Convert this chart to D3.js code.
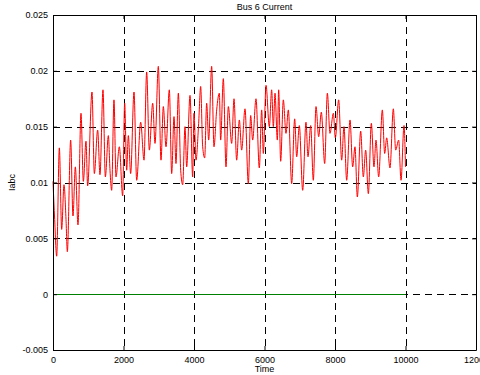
<!DOCTYPE html>
<html>
<head>
<meta charset="utf-8">
<script src="https://cdn.jsdelivr.net/npm/d3@7"></script>
<style>
  body { margin: 0; background: #fff; }
  svg { display: block; font-family: "Liberation Sans", Arial, sans-serif; }
</style>
</head>
<body>
<div id="chart"></div>
<script>
// Axis ticks
const xTicks = [0, 2000, 4000, 6000, 8000, 10000, 12000];
const yTicks = [-0.005, 0, 0.005, 0.01, 0.015, 0.02, 0.025];

// Red trace (Iabc): time and value
const redTime = [0, 47, 104, 180, 246, 312, 369, 407, 501, 567, 634, 709, 794, 861, 936, 983,
  1106, 1173, 1267, 1333, 1418, 1485, 1570, 1617, 1664, 1730, 1787, 1882, 1976, 2033, 2090,
  2137, 2203, 2298, 2374, 2487, 2582, 2657, 2733, 2828, 2894, 2988, 3064, 3130, 3206, 3300,
  3367, 3433, 3489, 3556, 3622, 3679, 3745, 3792, 3887, 3962, 4000, 4057, 4132, 4189, 4246,
  4303, 4359, 4416, 4501, 4567, 4643, 4719, 4756, 4832, 4908, 4974, 5069, 5135, 5210, 5286,
  5352, 5447, 5541, 5608, 5664, 5759, 5853, 5920, 5967, 6043, 6137, 6203, 6251, 6298, 6364,
  6402, 6459, 6534, 6610, 6676, 6771, 6856, 6913, 6988, 7083, 7177, 7234, 7310, 7385, 7461,
  7537, 7612, 7707, 7783, 7858, 7953, 8010, 8104, 8189, 8255, 8331, 8426, 8501, 8567, 8634,
  8728, 8804, 8870, 8946, 9031, 9106, 9163, 9239, 9343, 9409, 9466, 9560, 9655, 9721, 9806,
  9873, 9958, 10000];
const redValue = [0.0101, 0.0067, 0.0034, 0.0131, 0.0058, 0.0098, 0.0067, 0.0038, 0.0138, 0.0070,
  0.0114, 0.0062, 0.0162, 0.0101, 0.0137, 0.0097, 0.0181, 0.0108, 0.0147, 0.0107, 0.0183, 0.0105,
  0.0142, 0.0111, 0.0093, 0.0174, 0.0105, 0.0132, 0.0088, 0.0171, 0.0111, 0.0142, 0.0108, 0.0181,
  0.0102, 0.0154, 0.0120, 0.0199, 0.0129, 0.0171, 0.0135, 0.0204, 0.0120, 0.0168, 0.0132, 0.0183,
  0.0108, 0.0159, 0.0117, 0.0180, 0.0111, 0.0098, 0.0150, 0.0114, 0.0178, 0.0105, 0.0162, 0.0120,
  0.0153, 0.0186, 0.0132, 0.0122, 0.0171, 0.0138, 0.0204, 0.0132, 0.0165, 0.0180, 0.0138, 0.0193,
  0.0114, 0.0168, 0.0135, 0.0175, 0.0120, 0.0156, 0.0129, 0.0166, 0.0099, 0.0160, 0.0138, 0.0175,
  0.0113, 0.0165, 0.0126, 0.0187, 0.0150, 0.0183, 0.0150, 0.0180, 0.0138, 0.0183, 0.0119, 0.0174,
  0.0144, 0.0165, 0.0099, 0.0157, 0.0123, 0.0151, 0.0093, 0.0154, 0.0123, 0.0151, 0.0102, 0.0168,
  0.0141, 0.0163, 0.0117, 0.0180, 0.0144, 0.0162, 0.0140, 0.0174, 0.0120, 0.0150, 0.0102, 0.0156,
  0.0114, 0.0132, 0.0087, 0.0146, 0.0105, 0.0129, 0.0090, 0.0153, 0.0114, 0.0138, 0.0105, 0.0165,
  0.0126, 0.0140, 0.0113, 0.0166, 0.0129, 0.0138, 0.0102, 0.0151, 0.0114];

// Green trace: flat at zero
const greenTime = [0, 10000];
const greenValue = [0, 0];

const width = 480, height = 375;
const margin = { top: 15, right: 4, bottom: 25, left: 53 };
const plotW = width - margin.left - margin.right;
const plotH = height - margin.top - margin.bottom;

const svg = d3.select('#chart')
  .append('svg')
  .attr('width', width)
  .attr('height', height);

const g = svg.append('g')
  .attr('transform', `translate(${margin.left},${margin.top})`);

const x = d3.scaleLinear().domain([0, 12000]).range([0, plotW]);
const y = d3.scaleLinear().domain([-0.005, 0.025]).range([plotH, 0]);

// Dashed grid
g.selectAll('.vgrid')
  .data(xTicks.slice(1, -1))
  .enter()
  .append('line')
  .attr('x1', d => Math.round(x(d)) + 0.5).attr('x2', d => Math.round(x(d)) + 0.5)
  .attr('y1', 0).attr('y2', plotH)
  .attr('stroke', '#000')
  .attr('stroke-width', 1)
  .attr('stroke-dasharray', '7,5');

g.selectAll('.hgrid')
  .data(yTicks.slice(1, -1))
  .enter()
  .append('line')
  .attr('x1', 0).attr('x2', plotW)
  .attr('y1', d => Math.round(y(d)) + 0.5).attr('y2', d => Math.round(y(d)) + 0.5)
  .attr('stroke', '#000')
  .attr('stroke-width', 1)
  .attr('stroke-dasharray', '7,5');

// Lines
const line = d3.line()
  .x(d => x(d[0]))
  .y(d => y(d[1]));

g.append('path')
  .datum(greenTime.map((t, i) => [t, greenValue[i]]))
  .attr('d', d3.line().x(d => x(d[0])).y(d => Math.round(y(d[1])) + 0.5))
  .attr('fill', 'none')
  .attr('stroke', '#008000')
  .attr('stroke-width', 1.2);

g.append('path')
  .datum(redTime.map((t, i) => [t, redValue[i]]))
  .attr('d', line.curve(d3.curveMonotoneX))
  .attr('fill', 'none')
  .attr('stroke', '#ff0000')
  .attr('stroke-width', 1);

// Axes (ticks point inward like MATLAB)
const fmtY = d => d === 0 ? '0' : String(+d.toFixed(3));
const xAxis = g.append('g')
  .attr('transform', `translate(0,${plotH})`)
  .call(d3.axisBottom(x).tickValues(xTicks).tickFormat(d3.format('d'))
    .tickSizeInner(-4).tickSizeOuter(0).tickPadding(7));
const xTop = g.append('g')
  .call(d3.axisTop(x).tickValues(xTicks).tickFormat('')
    .tickSizeInner(-4).tickSizeOuter(0));
const yAxis = g.append('g')
  .call(d3.axisLeft(y).tickValues(yTicks).tickFormat(fmtY)
    .tickSizeInner(-4).tickSizeOuter(0).tickPadding(5));
const yRight = g.append('g')
  .attr('transform', `translate(${plotW},0)`)
  .call(d3.axisRight(y).tickValues(yTicks).tickFormat('')
    .tickSizeInner(-4).tickSizeOuter(0));

[xAxis, xTop, yAxis, yRight].forEach(a => {
  a.select('.domain').attr('stroke', '#000').attr('stroke-width', 1);
  a.selectAll('.tick line').attr('stroke', '#000');
  a.selectAll('text').attr('font-size', 9).attr('fill', '#000')
    .attr('font-family', '"Liberation Sans", Arial, sans-serif');
});

// Titles
svg.append('text')
  .attr('x', margin.left + plotW / 2)
  .attr('y', 10)
  .attr('text-anchor', 'middle')
  .attr('font-size', 9)
  .text('Bus 6 Current');

svg.append('text')
  .attr('x', margin.left + plotW / 2)
  .attr('y', 372)
  .attr('text-anchor', 'middle')
  .attr('font-size', 9)
  .text('Time');

svg.append('text')
  .attr('transform', `translate(15,${margin.top + plotH / 2}) rotate(-90)`)
  .attr('text-anchor', 'middle')
  .attr('font-size', 9)
  .text('Iabc');
</script>
</body>
</html>
